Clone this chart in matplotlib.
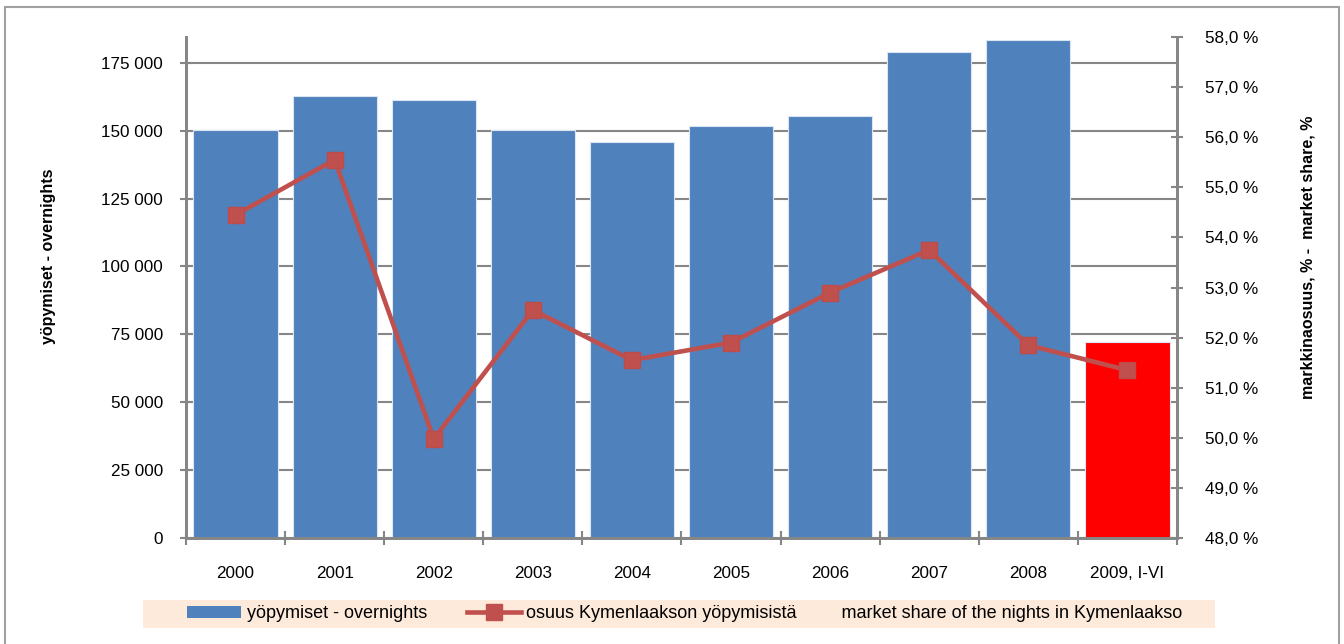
import matplotlib.pyplot as plt
import numpy as np
from matplotlib.patches import Rectangle, Patch
from matplotlib.lines import Line2D
from matplotlib.ticker import FuncFormatter, MultipleLocator

plt.rcParams['font.family'] = ['Liberation Sans', 'DejaVu Sans']

vuodet = ["2000", "2001", "2002", "2003", "2004", "2005", "2006", "2007", "2008", "2009, I-VI"]
yopymiset = [150200, 162700, 161300, 150200, 145800, 151700, 155400, 178900, 183400, 72200]
osuus = [54.45, 55.55, 49.98, 52.55, 51.55, 51.9, 52.9, 53.75, 51.85, 51.35]
bar_colors = ["#4F81BD"] * 9 + ["#FF0000"]

grey = "#868686"
fs = 12.3

fig = plt.figure(figsize=(13.44, 6.44), dpi=100)
ax = fig.add_axes([0.1384, 0.1646, 0.7373, 0.7779])
ax2 = ax.twinx()

x = np.arange(len(vuodet))
ax.bar(x, yopymiset, width=0.85, color=bar_colors, edgecolor="#DCE6F2", linewidth=0.8, zorder=2)
ax.set_xlim(-0.5, len(vuodet) - 0.5)
ax.set_ylim(0, 184500)
ax.yaxis.set_major_locator(MultipleLocator(25000))
ax.yaxis.set_major_formatter(FuncFormatter(lambda v, p: f"{int(v):,}".replace(",", " ")))
ax.grid(axis="y", color=grey, linewidth=1.5, zorder=0)
ax.set_axisbelow(True)
ax.set_xticks(x)
ax.set_xticklabels(vuodet)
ax.tick_params(axis="x", length=0, pad=20, labelsize=fs)
ax.set_xticks(np.arange(-0.5, len(vuodet)), minor=True)
ax.tick_params(axis="x", which="minor", direction="inout", length=10, color=grey, width=1.5)
ax.tick_params(axis="y", direction="inout", length=9, color=grey, width=1.5, labelsize=fs, pad=12)
ax.set_ylabel("yöpymiset - overnights", fontsize=11.5, fontweight="bold")
ax.yaxis.set_label_coords(-0.131, 0.563)

ax2.plot(x, osuus, color="#C0504D", linewidth=3.3, marker="s", markersize=11,
         markerfacecolor="#C0504D", markeredgecolor="#BE4B48", zorder=3)
ax2.set_ylim(48, 58)
ax2.yaxis.set_major_locator(MultipleLocator(1))
ax2.yaxis.set_major_formatter(FuncFormatter(lambda v, p: f"{v:.1f}".replace(".", ",") + " %"))
ax2.tick_params(axis="y", direction="inout", length=9, color=grey, width=1.5, labelsize=fs, pad=16)
ax2.set_ylabel("markkinaosuus, % -  market share, %", fontsize=11.5, fontweight="bold")
ax2.yaxis.set_label_coords(1.125, 0.561)

for a in (ax, ax2):
    for s in a.spines.values():
        s.set_color(grey)
        s.set_linewidth(2)
    a.spines["top"].set_visible(False)

# legend background band
fig.patches.append(Rectangle((143 / 1344, 1 - 628 / 644), (1215 - 143) / 1344, 28 / 644,
                             transform=fig.transFigure, facecolor="#FDEADA", edgecolor="none"))
handles = [Patch(facecolor="#4F81BD"),
           Line2D([0], [0], color="#C0504D", linewidth=3.3, marker="s", markersize=11)]
labels = ["yöpymiset - overnights",
          "osuus Kymenlaakson yöpymisistä         market share of the nights in Kymenlaakso"]
fig.legend(handles, labels, loc="center", bbox_to_anchor=(0.5095, 1 - 614 / 644), ncol=2,
           frameon=False, fontsize=13, handlelength=3.0, handleheight=0.6, handletextpad=0.3,
           columnspacing=2.2)

# outer frame
fig.patches.append(Rectangle((5 / 1344, -0.05), 1334 / 1344, 1.05 - 7 / 644, transform=fig.transFigure,
                             fill=False, edgecolor="#A0A0A0", linewidth=1.5))

fig.savefig("out.png", dpi=100)
